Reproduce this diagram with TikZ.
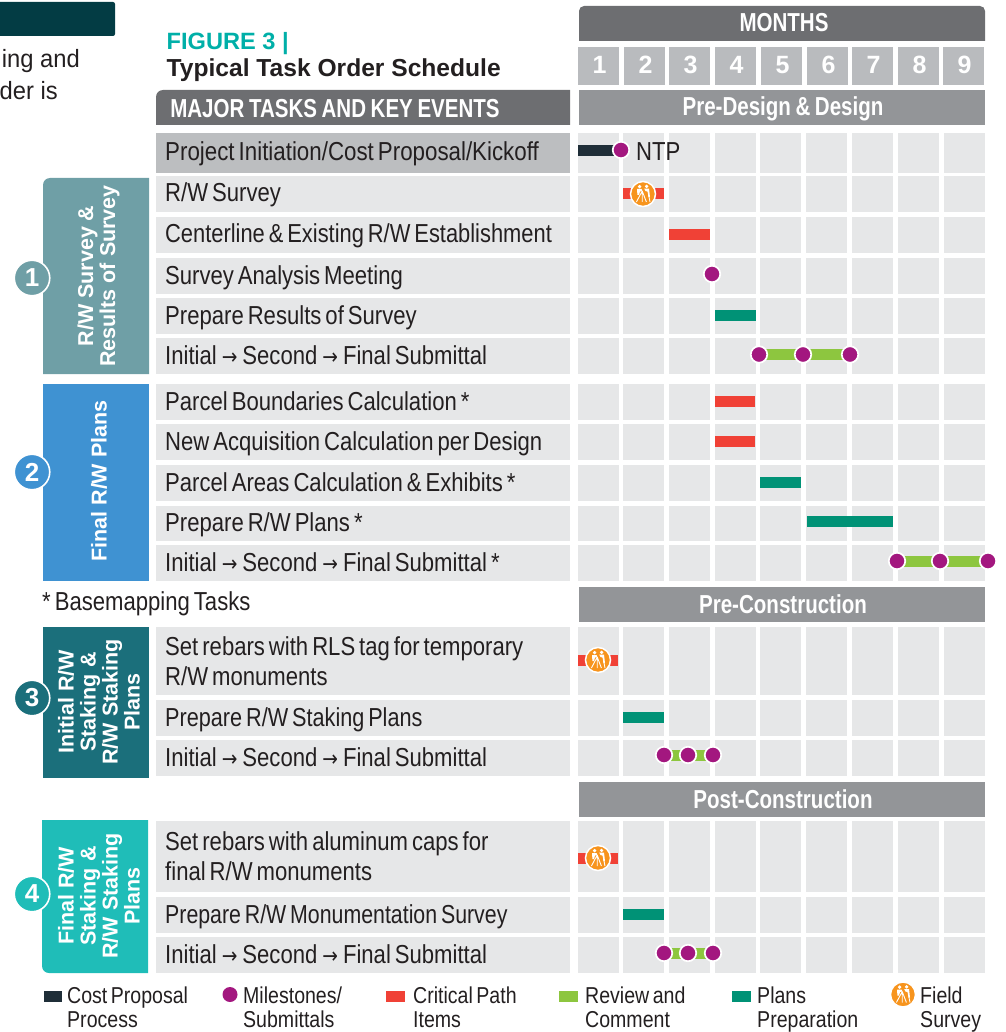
\documentclass[tikz,border=0pt]{standalone}
\usepackage{fontspec}
\setmainfont{Liberation Sans}
\newfontfamily\tfont[FakeStretch=0.85,WordSpace=0.65]{Liberation Sans}
\newfontfamily\pfont[FakeStretch=0.95]{Liberation Sans}
\newfontfamily\arfont[FakeStretch=0.85]{DejaVu Sans}
\newfontfamily\hfont[FakeStretch=0.79,WordSpace=0.8]{Liberation Sans Bold}
\newfontfamily\bfont{Liberation Sans Bold}
\newcommand{\ar}{\kern1pt{\arfont\fontsize{22}{30}\selectfont →}\kern1pt}
\definecolor{hdrdark}{HTML}{6D6E71}
\definecolor{hdrmid}{HTML}{939598}
\definecolor{monthc}{HTML}{B9BBBE}
\definecolor{cellc}{HTML}{E6E7E8}
\definecolor{firstc}{HTML}{BCBEC0}
\definecolor{barred}{HTML}{F04136}
\definecolor{bargreen}{HTML}{8DC63F}
\definecolor{barteal}{HTML}{009276}
\definecolor{bardark}{HTML}{1F2E38}
\definecolor{purp}{HTML}{A3177F}
\definecolor{oran}{HTML}{F7941D}
\definecolor{figteal}{HTML}{00AFA8}
\definecolor{topdark}{HTML}{033C44}
\definecolor{gone}{HTML}{6F9FA6}
\definecolor{gtwo}{HTML}{3F92D2}
\definecolor{gthree}{HTML}{1B6F7B}
\definecolor{gfour}{HTML}{1FBDB8}
\definecolor{inkc}{HTML}{231F20}
\usetikzlibrary{shapes.geometric}
\tikzset{
  tasktext/.style={anchor=base west,inner sep=0pt,text=inkc,font=\tfont\fontsize{26}{30}\selectfont},
  paratext/.style={anchor=base east,inner sep=0pt,text=inkc,font=\pfont\fontsize{25}{30}\selectfont},
  legtext/.style={anchor=north west,inner sep=0pt,text=inkc,align=left,font=\tfont\fontsize{23}{24}\selectfont},
  hdrtext/.style={anchor=base,inner sep=0pt,text=white,font=\hfont\fontsize{26}{28}\selectfont},
  grouptext/.style={rotate=90,inner sep=0pt,text=white,align=center,font=\bfont\fontsize{21.5}{22}\selectfont},
  numcirc/.style={circle,draw=white,line width=1.6pt,minimum size=35.5pt,inner sep=0pt,text=white,font=\bfont\fontsize{26}{28}\selectfont},
  mile/.style={circle,fill=purp,draw=white,line width=1.7pt,minimum size=16.5pt,inner sep=0pt},
  greenbar/.style={line width=11pt,bargreen},
}
\newcommand{\cellrow}[2]{%
  \foreach \xa/\xb in {578/619,623/664,669/710,715/756,760/801,806/847,852/893,898/939,944/985}
    \fill[cellc] (\xa,#1) rectangle (\xb,#2);}
\newcommand{\taskrow}[3]{%
  \fill[cellc] (156,#1) rectangle (570,#2);
  \cellrow{#1}{#2}%
  \node[tasktext] at (165,{(#1+#2)/2+8}) {#3};}
\newcommand{\taskrowtwo}[6]{%
  \fill[cellc] (156,#1) rectangle (570,#2);
  \cellrow{#1}{#2}%
  \node[tasktext] at (165,#3) {#4};
  \node[tasktext] at (165,#5) {#6};}
\newcommand{\surveyicon}[2]{%
  \begin{scope}[shift={(#1,#2)}]
    \node[circle,fill=oran,draw=white,line width=1.5pt,minimum size=25pt,inner sep=0pt] at (0,0) {};
    \fill[white] (-3.4,-7.4) circle (1.8) (3.6,-7.6) circle (1.8);
    \fill[white] (-6,-5) -- (-1.4,-5) -- (-0.6,-3) -- (-3,-2.4) -- (-4,1) -- (-5.6,1) -- cycle;
    \fill[white] (1.2,-5.4) -- (6,-5.4) -- (7,3) -- (5.4,3) -- (4.6,-2.4) -- (2.4,-3) -- cycle;
    \draw[white,line width=.9pt] (-0.8,-3) -- (-6.6,8) (-0.8,-3) -- (-0.8,8) (-0.8,-3) -- (3.4,8)
      (5.8,2) -- (7,8);
  \end{scope}}
\newcommand{\triple}[7]{%
  \coordinate (#5) at (#2,#1); \coordinate (#6) at (#3,#1); \coordinate (#7) at (#4,#1);
  \draw[greenbar] (#5) -- (#7);
  \node[mile] at (#5) {}; \node[mile] at (#6) {}; \node[mile] at (#7) {};}
\begin{document}
\begin{tikzpicture}[x=1pt,y=-1pt]
\useasboundingbox (0,0) rectangle (1005,1032);
\clip (0,0) rectangle (1005,1032);
% top-left fragment
\fill[topdark,rounded corners=2pt] (-5,2) rectangle (115,36);
\node[paratext] (fa) at (80,68) {ing and};
\node[paratext] (fb) at (58,100) {der is};
% title
\node[anchor=base west,inner sep=0pt,text=figteal,font=\bfont\fontsize{23.6}{28}\selectfont] (figa) at (166.5,50) {FIGURE 3 |};
\node[anchor=base west,inner sep=0pt,text=inkc,font=\bfont\fontsize{24.6}{28}\selectfont] (figb) at (166.5,77) {Typical Task Order Schedule};
% headers
\fill[hdrdark] (156,125) -- (156,97) arc[start angle=180,end angle=270,radius=7] -- (570,90) -- (570,125) -- cycle;
\node[hdrtext] (hmajor) at (335,118) {MAJOR TASKS AND KEY EVENTS};
\fill[hdrdark] (579,41) -- (579,11) arc[start angle=180,end angle=270,radius=5] -- (980,6) arc[start angle=270,end angle=360,radius=5] -- (985,41) -- cycle;
\node[hdrtext] (hmonths) at (784,32) {MONTHS};
\foreach \xa/\xb/\m in {578/619/1,624/665/2,669/710/3,715/756/4,761/802/5,807/848/6,852/893/7,898/939/8,943/984/9}{
  \fill[monthc] (\xa,47) rectangle (\xb,85);
  \node[anchor=base,inner sep=0pt,text=white,font=\bfont\fontsize{25}{28}\selectfont] (mo\m) at ({(\xa+\xb)/2+1},74) {\m};
}
\fill[hdrmid] (579,90) rectangle (985,125);
\node[hdrtext] (hpd) at (783,116) {Pre-Design \& Design};
\fill[hdrmid] (579,587) rectangle (985,622);
\node[hdrtext] (hpc) at (783,613) {Pre-Construction};
\fill[hdrmid] (579,782) rectangle (985,817);
\node[hdrtext] (hpost) at (783,808) {Post-Construction};
% rows
\fill[firstc] (156,133) rectangle (570,173);
\cellrow{133}{173}
\node[tasktext] at (165,160.5) {\scalebox{1.01}[1]{Project Initiation/Cost Proposal/Kickoff}};
\taskrow{176}{212}{R/W Survey}
\taskrow{217}{253}{\scalebox{0.99}[1]{Centerline \& Existing R/W Establishment}}
\taskrow{258}{294}{Survey Analysis Meeting}
\taskrow{298}{334}{Prepare Results of Survey}
\taskrow{338}{374}{Initial \ar{} Second \ar{} Final Submittal}
\taskrow{384}{420}{Parcel Boundaries Calculation *}
\taskrow{424}{460}{New Acquisition Calculation per Design}
\taskrow{465}{501}{Parcel Areas Calculation \& Exhibits *}
\taskrow{506}{541}{Prepare R/W Plans *}
\taskrow{545}{581}{Initial \ar{} Second \ar{} Final Submittal *}
\node[tasktext] (basem) at (42,610) {* Basemapping Tasks};
\taskrowtwo{627}{695}{655.5}{Set rebars with RLS tag for temporary}{685.5}{R/W monuments}
\taskrow{700}{736}{\scalebox{0.98}[1]{Prepare R/W Staking Plans}}
\taskrow{740}{776}{Initial \ar{} Second \ar{} Final Submittal}
\taskrowtwo{821}{892}{850}{Set rebars with aluminum caps for}{880}{final R/W monuments}
\taskrow{897}{933}{\scalebox{0.965}[1]{Prepare R/W Monumentation Survey}}
\taskrow{937}{973}{Initial \ar{} Second \ar{} Final Submittal}
% groups
\fill[gone] (43,374) -- (43,185) arc[start angle=180,end angle=270,radius=7] -- (149,178) -- (149,374) -- cycle;
\node[grouptext] (g1) at (98.5,276) {R/W Survey \&\\Results of Survey};
\node[numcirc,fill=gone] (c1) at (32,278) {1};
\fill[gtwo] (43,384) rectangle (149,581);
\node[grouptext] (g2) at (99,481) {Final R/W Plans};
\node[numcirc,fill=gtwo] (c2) at (32,472) {2};
\fill[gthree] (43,627) rectangle (149,778);
\node[grouptext] (g3) at (99,702) {Initial R/W\\Staking \&\\R/W Staking\\Plans};
\node[numcirc,fill=gthree] (c3) at (32,698) {3};
\fill[gfour] (42,820) -- (42,966) arc[start angle=180,end angle=90,radius=7] -- (148,973) -- (148,820) -- cycle;
\node[grouptext] (g4) at (99,896) {Final R/W\\Staking \&\\R/W Staking\\Plans};
\node[numcirc,fill=gfour] (c4) at (32,894) {4};
% bars
\fill[bardark] (578,145) rectangle (616,156);
\node[mile] (ntp) at (621,150) {};
\node[tasktext] (ntpl) at (636,160.5) {NTP};
\fill[barred] (623,188) rectangle (664,199);
\surveyicon{643}{194}
\fill[barred] (669,229) rectangle (710,240);
\node[mile] (sam) at (712,274) {};
\fill[barteal] (715,310) rectangle (756,321);
\triple{354.5}{759}{803}{850}{a1}{a2}{a3}
\fill[barred] (715,396) rectangle (755,407);
\fill[barred] (715,436) rectangle (755,447);
\fill[barteal] (760,477) rectangle (801,488);
\fill[barteal] (807,516) rectangle (893,527);
\triple{561}{897}{940}{988}{b1}{b2}{b3}
\fill[barred] (578,655) rectangle (618,666);
\surveyicon{598}{660}
\fill[barteal] (623,712) rectangle (664,723);
\triple{755}{664}{688}{713}{d1}{d2}{d3}
\fill[barred] (578,853) rectangle (618,864);
\surveyicon{598}{858}
\fill[barteal] (623,909) rectangle (664,920);
\triple{953}{664}{688}{713}{e1}{e2}{e3}
% legend
\fill[bardark] (44,991) rectangle (62,1002);
\node[legtext] (l1) at (67,987) {Cost Proposal\\Process};
\fill[purp] (230,994.5) circle (7.5);
\node[legtext] (l2) at (243,987) {Milestones/\\Submittals};
\fill[barred] (386,991) rectangle (405,1002);
\node[legtext] (l3) at (413,987) {Critical Path\\Items};
\fill[bargreen] (559,991) rectangle (578,1002);
\node[legtext] (l4) at (585,987) {Review and\\Comment};
\fill[barteal] (732,991) rectangle (751,1002);
\node[legtext] (l5) at (757,987) {Plans\\Preparation};
\surveyicon{903}{994.5}
\node[legtext] (l6) at (920,987) {Field\\Survey};
\end{tikzpicture}
\end{document}
